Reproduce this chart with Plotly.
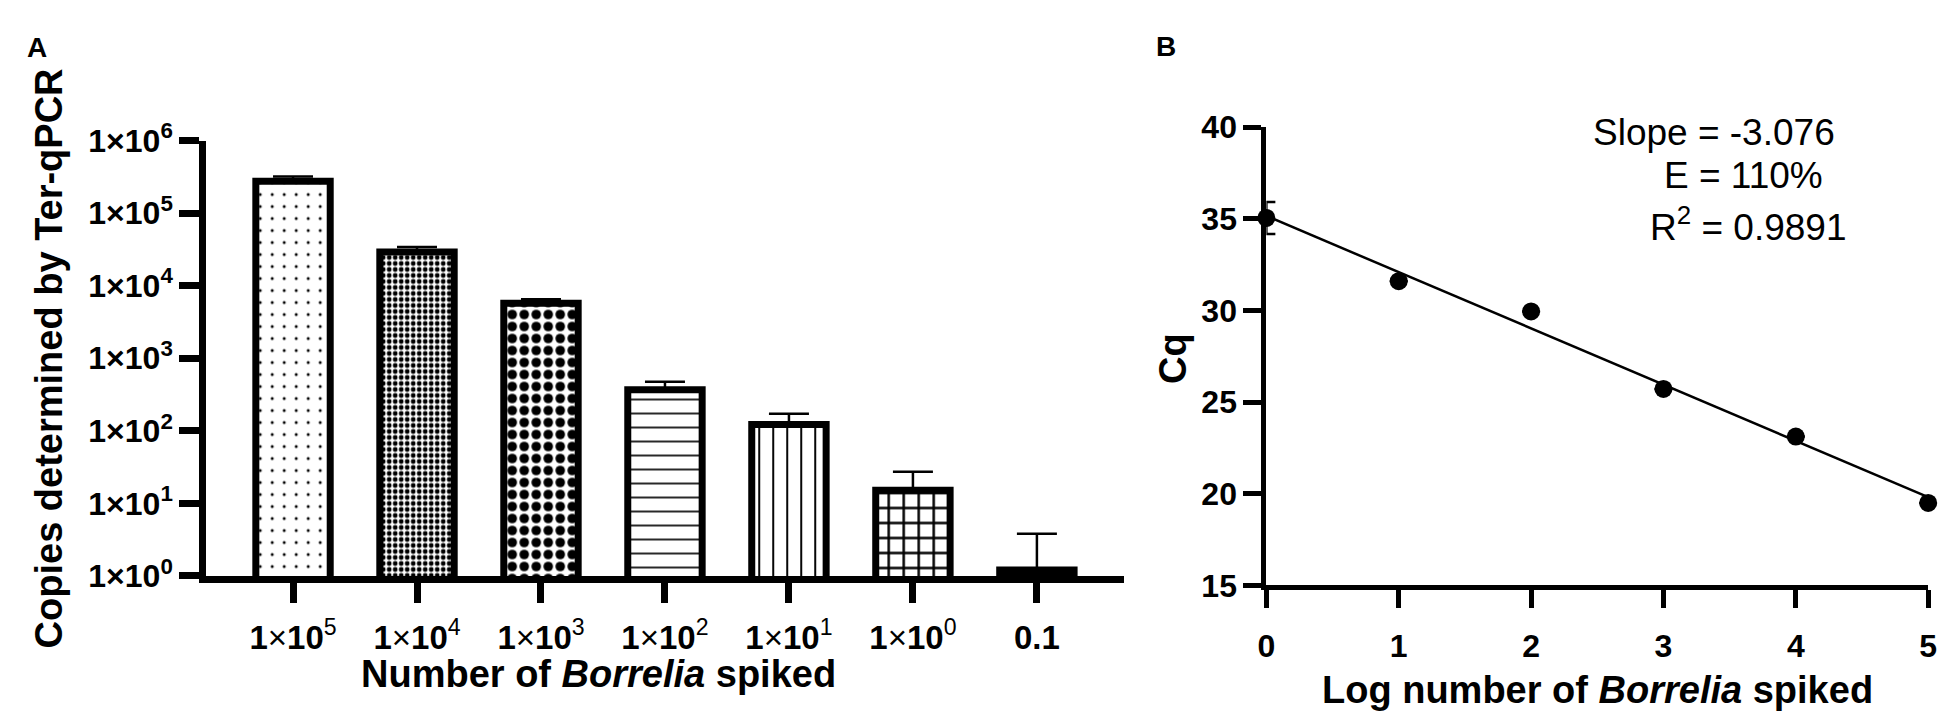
import numpy as np
import plotly.graph_objects as go

# Panel A - copies measured for each spike level (log axis)
spiked = ["1e5", "1e4", "1e3", "1e2", "1e1", "1e0", "0.1"]
spiked_txt = ["<b>1</b>×<b>10</b><sup>5</sup>", "<b>1</b>×<b>10</b><sup>4</sup>",
              "<b>1</b>×<b>10</b><sup>3</sup>", "<b>1</b>×<b>10</b><sup>2</sup>",
              "<b>1</b>×<b>10</b><sup>1</sup>", "<b>1</b>×<b>10</b><sup>0</sup>", "<b>0.1</b>"]
copies = [2.75e5, 2.9e4, 5.7e3, 367, 122, 15.2, 1.21]
copies_sd = [4.5e4, 5e3, 800, 106, 50, 12, 2.6]
decades = [0, 1, 2, 3, 4, 5, 6]

# Panel B - standard curve
log_spiked = [0, 1, 2, 3, 4, 5]
cq = [35.05, 31.6, 29.95, 25.72, 23.12, 19.5]
cq_sd = [0.87, 0, 0, 0, 0, 0]
cq_ticks = [15, 20, 25, 30, 35, 40]

W, H = 1950, 721
FONT = "Arial, Liberation Sans, sans-serif"


def px(x):
    return x / W


def py(y):
    return 1 - y / H


# bar fill patterns (dots, fine checker, coarse checker, horiz, vert, grid, solid)
fill = ["white"] * 6 + ["black"]
pat_shape = [".", ".", ".", "-", "|", "+", ""]
pat_size = [12, 6, 12, 14, 14, 15, 8]
pat_sol = [0.05, 0.5, 0.5, 0.12, 0.14, 0.3, 0.5]

fig = go.Figure()

# one trace per bar so every bar gets its own fill pattern
for i in range(len(spiked)):
    fig.add_trace(go.Bar(x=[spiked[i]], y=[copies[i]], width=0.6, xaxis="x", yaxis="y",
                         marker_color=fill[i], marker_line=dict(color="black", width=7),
                         marker_pattern_shape=pat_shape[i], marker_pattern_size=pat_size[i],
                         marker_pattern_solidity=pat_sol[i], marker_pattern_fgcolor="black",
                         marker_pattern_fgopacity=1, marker_pattern_fillmode="overlay",
                         error_y=dict(type="data", symmetric=False, array=[copies_sd[i]],
                                      arrayminus=[0], color="black", thickness=2.5, width=20)))

# regression line from the points
slope, inter = np.polyfit(log_spiked, cq, 1)
x_fit = [log_spiked[0], log_spiked[-1]]
y_fit = [inter + slope * v for v in x_fit]

fig.add_trace(go.Scatter(x=x_fit, y=y_fit, mode="lines", xaxis="x2", yaxis="y2",
                         line=dict(color="black", width=2.5), cliponaxis=False))
fig.add_trace(go.Scatter(x=log_spiked, y=cq, mode="markers", xaxis="x2", yaxis="y2",
                         marker=dict(color="black", size=18), cliponaxis=False,
                         error_y=dict(type="data", array=cq_sd, color="black", thickness=2.5, width=9)))

axis_a = dict(showline=True, linecolor="black", linewidth=7, ticks="outside", tickcolor="black",
              showgrid=False, zeroline=False)
axis_b = dict(showline=True, linecolor="black", linewidth=5, ticks="outside", tickcolor="black",
              showgrid=False, zeroline=False, tickwidth=5, ticklen=18)

fig.update_layout(
    width=W, height=H, margin=dict(l=0, r=0, t=0, b=0), barmode="overlay",
    paper_bgcolor="white", plot_bgcolor="white", showlegend=False,
    font=dict(family=FONT, color="black"),
    xaxis=dict(axis_a, domain=[px(191), px(1117)], range=[-0.7, 6.7], anchor="y",
               categoryorder="array", categoryarray=spiked,
               tickvals=spiked, ticktext=spiked_txt, ticklen=20, tickwidth=7, ticklabelstandoff=6,
               tickfont=dict(size=33, family=FONT)),
    yaxis=dict(axis_a, domain=[py(578), py(117)], type="log", range=[0, 6.0], anchor="x",
               tickvals=[10 ** k for k in decades], ticktext=[f"1×10<sup>{k}</sup>" for k in decades],
               ticklen=20, tickwidth=7, tickfont=dict(size=32, family=FONT, weight="bold")),
    xaxis2=dict(axis_b, domain=[px(1261), px(1929)], range=[0, 5], anchor="y2", ticklabelstandoff=10,
                tickvals=log_spiked, tickfont=dict(size=32, family=FONT, weight="bold")),
    yaxis2=dict(axis_b, domain=[py(588), py(103)], range=[15, 40], anchor="x2",
                tickvals=cq_ticks, tickfont=dict(size=32, family=FONT, weight="bold")),
)

big = dict(size=38, family=FONT, color="black")
notes = [
    dict(x=px(20), y=py(18), text="<b>A</b>", font=dict(size=28, family=FONT)),
    dict(x=px(1160), y=py(17), text="<b>B</b>", font=dict(size=28, family=FONT)),
    dict(x=px(32), y=py(348), text="<b>Copies determined by Ter-qPCR</b>", textangle=-90, font=big),
    dict(x=px(587), y=py(682), text="<b>Number of <i>Borrelia</i> spiked</b>", font=big),
    dict(x=px(1166), y=py(348), text="<b>Cq</b>", textangle=-90, font=big),
    dict(x=px(1595), y=py(699), text="<b>Log number of <i>Borrelia</i> spiked</b>", font=big),
    dict(x=px(1713), y=py(109), text="Slope = -3.076", font=dict(size=37, family=FONT)),
    dict(x=px(1743), y=py(154), text="E = 110%", font=dict(size=37, family=FONT)),
    dict(x=px(1747), y=py(206), text="R<sup>2</sup> = 0.9891", font=dict(size=37, family=FONT)),
]
for n in notes:
    fig.add_annotation(xref="paper", yref="paper", showarrow=False,
                       xanchor="center", yanchor="middle", **n)

fig.write_html("out.html")
